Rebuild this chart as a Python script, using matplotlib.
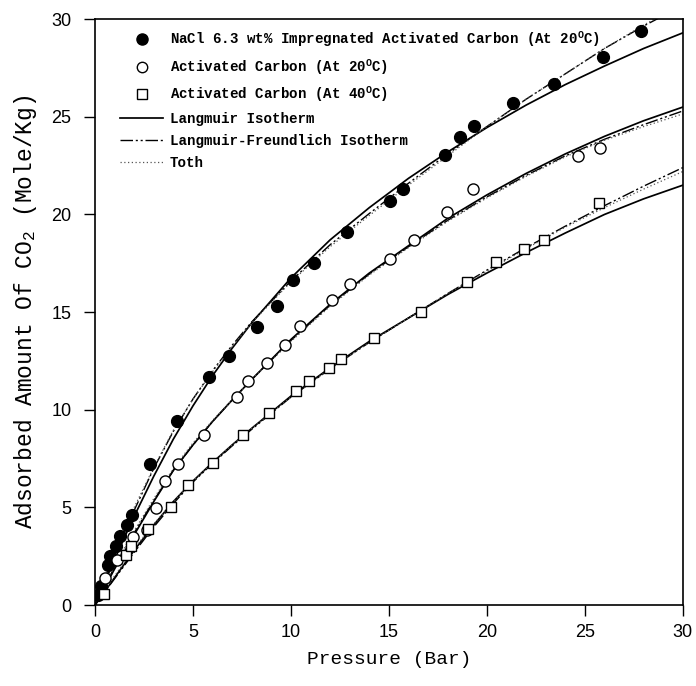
import matplotlib
matplotlib.use("Agg")
import matplotlib.pyplot as plt
from matplotlib.lines import Line2D

# measured points (pressure in bar, uptake in mole/kg)
nacl_p = [0.15, 0.3, 0.64, 0.76, 1.07, 1.3, 1.62, 1.87, 2.79, 4.17, 5.82, 6.84,
          8.29, 9.28, 10.13, 11.2, 12.86, 15.07, 15.7, 17.85, 18.65, 19.33,
          21.34, 23.42, 25.94, 27.85]
nacl_q = [0.5, 1.0, 2.05, 2.5, 3.0, 3.55, 4.1, 4.6, 7.2, 9.4, 11.7, 12.73,
          14.22, 15.29, 16.65, 17.52, 19.09, 20.71, 21.28, 23.05, 23.98, 24.52,
          25.69, 26.7, 28.07, 29.4]

ac20_p = [0.5, 1.1, 1.96, 2.64, 3.12, 3.58, 4.22, 5.57, 7.24, 7.83, 8.8, 9.71,
          10.47, 12.09, 13.04, 15.05, 16.26, 17.97, 19.3, 24.64, 25.8]
ac20_q = [1.4, 2.3, 3.5, 3.85, 4.95, 6.35, 7.22, 8.7, 10.65, 11.48, 12.39, 13.33,
          14.27, 15.6, 16.44, 17.7, 18.71, 20.12, 21.31, 22.99, 23.42]

ac40_p = [0.45, 1.58, 1.84, 2.72, 3.88, 4.74, 6.04, 7.56, 8.9, 10.25, 10.9,
          11.95, 12.57, 14.22, 16.66, 19.0, 20.45, 21.92, 22.94, 25.71]
ac40_q = [0.55, 2.56, 3.0, 3.88, 5.0, 6.15, 7.29, 8.71, 9.83, 10.94, 11.48,
          12.13, 12.6, 13.67, 15.0, 16.54, 17.57, 18.25, 18.68, 20.59]

# fitted isotherm curves
curve_p = [0, 1, 2, 3, 4, 5, 6, 7, 8, 10, 12, 14, 16, 18, 20, 22, 24, 26, 28, 30]

nacl_lang = [0, 2.35, 4.55, 6.6, 8.5, 10.2, 11.75, 13.15, 14.45, 16.75, 18.7, 20.35, 21.85, 23.2, 24.45, 25.6, 26.65, 27.6, 28.5, 29.3]
nacl_lf = [0, 2.6, 4.85, 7.0, 8.9, 10.55, 12.0, 13.3, 14.5, 16.6, 18.45, 20.05, 21.6, 23.1, 24.5, 25.9, 27.2, 28.5, 29.65, 30.7]
nacl_toth = [0, 2.7, 5.0, 7.05, 8.95, 10.55, 11.95, 13.25, 14.45, 16.55, 18.35, 19.95, 21.5, 23.0, 24.5, 25.9, 27.2, 28.5, 29.7, 30.8]

ac20_lang = [0, 1.85, 3.6, 5.3, 6.9, 8.2, 9.4, 10.5, 11.55, 13.6, 15.4, 17.0, 18.4, 19.8, 21.0, 22.1, 23.1, 24.0, 24.8, 25.5]
ac20_lf = [0, 1.95, 3.7, 5.35, 6.9, 8.2, 9.4, 10.5, 11.55, 13.55, 15.35, 16.95, 18.35, 19.7, 20.9, 22.0, 23.0, 23.85, 24.6, 25.3]
ac20_toth = [0, 2.05, 3.8, 5.45, 7.0, 8.3, 9.45, 10.5, 11.55, 13.5, 15.3, 16.9, 18.3, 19.65, 20.85, 21.95, 22.95, 23.8, 24.5, 25.15]

ac40_lang = [0, 1.4, 2.8, 4.1, 5.3, 6.35, 7.3, 8.2, 9.05, 10.7, 12.15, 13.5, 14.7, 15.9, 17.0, 18.05, 19.05, 20.0, 20.8, 21.5]
ac40_lf = [0, 1.35, 2.7, 4.0, 5.2, 6.3, 7.25, 8.15, 9.0, 10.65, 12.1, 13.45, 14.7, 15.95, 17.15, 18.3, 19.4, 20.45, 21.45, 22.4]
ac40_toth = [0, 1.5, 2.9, 4.15, 5.3, 6.35, 7.3, 8.2, 9.05, 10.65, 12.1, 13.45, 14.7, 15.95, 17.1, 18.25, 19.35, 20.35, 21.3, 22.2]

labels = [
    r"NaCl 6.3 wt% Impregnated Activated Carbon (At 20$^{\mathregular{O}}$C)",
    r"Activated Carbon (At 20$^{\mathregular{O}}$C)",
    r"Activated Carbon (At 40$^{\mathregular{O}}$C)",
    "Langmuir Isotherm",
    "Langmuir-Freundlich Isotherm",
    "Toth",
]

mono = "Liberation Mono"
lf_dash = (0, (9, 2, 1.5, 2, 1.5, 2))
toth_dash = (0, (1, 2))

fig = plt.figure(figsize=(6.96, 6.86), dpi=100)
ax = fig.add_axes([0.1365, 0.118, 0.8445, 0.854])

for lang, lf, toth in [(nacl_lang, nacl_lf, nacl_toth),
                       (ac20_lang, ac20_lf, ac20_toth),
                       (ac40_lang, ac40_lf, ac40_toth)]:
    ax.plot(curve_p, lang, color="black", lw=1.25, ls="-")
    ax.plot(curve_p, lf, color="black", lw=1.0, ls=lf_dash)
    ax.plot(curve_p, toth, color="#555555", lw=0.9, ls=toth_dash)

ax.plot(nacl_p, nacl_q, "o", ms=8.5, mfc="black", mec="black", ls="none")
ax.plot(ac20_p, ac20_q, "o", ms=8, mfc="white", mec="black", mew=1.0, ls="none")
ax.plot(ac40_p, ac40_q, "s", ms=7, mfc="white", mec="black", mew=1.0, ls="none")

ax.set_xlim(0, 30)
ax.set_ylim(0, 30)
ax.set_xticks([0, 5, 10, 15, 20, 25, 30])
ax.set_yticks([0, 5, 10, 15, 20, 25, 30])
ax.tick_params(direction="out", length=8, width=1.0, labelsize=13)
ax.tick_params(axis="y", pad=9)
ax.tick_params(axis="x", pad=6)
for lab in ax.get_xticklabels() + ax.get_yticklabels():
    lab.set_fontfamily("Liberation Sans")
for sp in ax.spines.values():
    sp.set_linewidth(1.2)

ax.set_xlabel("Pressure (Bar)", fontfamily=mono, fontsize=14, labelpad=7)
ax.set_ylabel(r"Adsorbed Amount Of CO$_{\mathregular{2}}$ (Mole/Kg)",
              fontfamily=mono, fontsize=16.5, labelpad=9)

handles = [
    Line2D([], [], marker="o", ms=8, mfc="black", mec="black", ls="none"),
    Line2D([], [], marker="o", ms=7.5, mfc="white", mec="black", ls="none"),
    Line2D([], [], marker="s", ms=6.5, mfc="white", mec="black", ls="none"),
    Line2D([], [], color="black", lw=1.25, ls="-"),
    Line2D([], [], color="black", lw=1.0, ls=lf_dash),
    Line2D([], [], color="#555555", lw=0.9, ls=toth_dash),
]
leg = ax.legend(handles, labels, loc="upper left", bbox_to_anchor=(0.025, 1.0),
                frameon=False, handlelength=3.0, handletextpad=0.5,
                labelspacing=0.55, borderaxespad=0.35,
                prop={"family": mono, "weight": "bold", "size": 10.2})

fig.savefig("out.png", dpi=100)
